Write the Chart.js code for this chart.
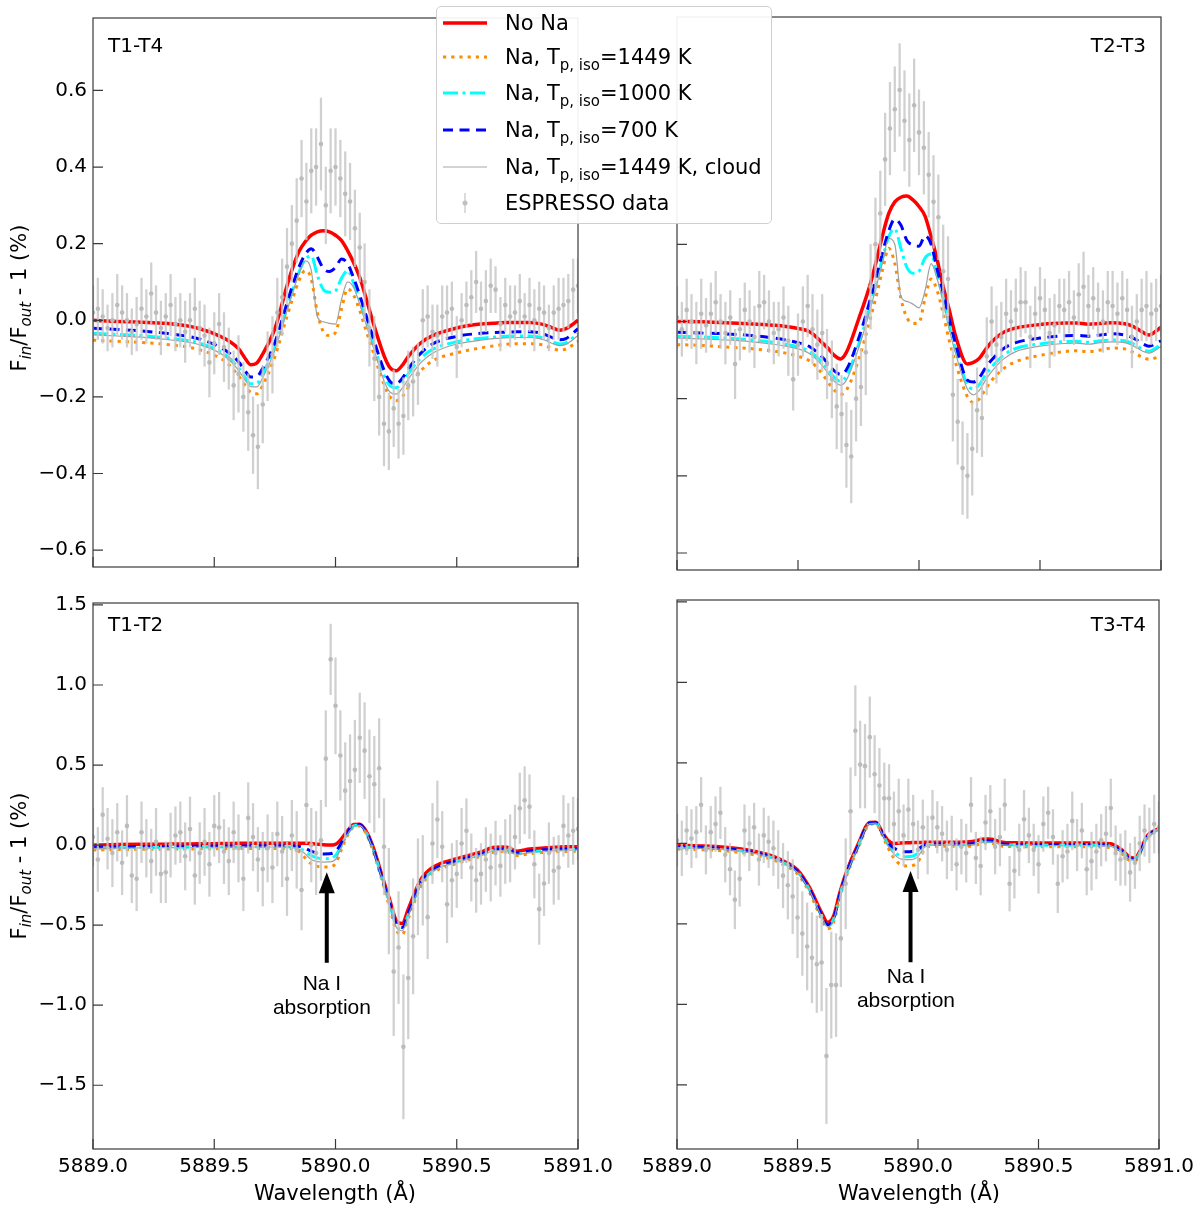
<!DOCTYPE html>
<html>
<head>
<meta charset="utf-8">
<title>Na I transmission models vs ESPRESSO data</title>
<script src="https://cdn.jsdelivr.net/npm/chart.js@4.4.1/dist/chart.umd.min.js"></script>
<style>
  html, body { margin:0; padding:0; background:#fff; }
  body { width:1200px; height:1213px; position:relative; overflow:hidden; font-family:"DejaVu Sans", sans-serif; color:#000; }
  canvas { position:absolute; }
  .plabel { position:absolute; font-size:20px; line-height:24px; white-space:nowrap; }
  .ytitle { position:absolute; width:300px; height:30px; line-height:30px; text-align:center; font-size:21px; transform:rotate(-90deg); white-space:nowrap; }
  .ytitle .s { font-size:15px; font-style:italic; position:relative; top:5px; }
  .xtitle { position:absolute; width:300px; height:28px; line-height:28px; text-align:center; font-size:21px; white-space:nowrap; }
  #legend { position:absolute; left:436px; top:6px; width:336px; height:218px; box-sizing:border-box; border:1px solid #cfcfcf; border-radius:5px; background:rgba(255,255,255,0.92); z-index:10; }
  .lrow { position:absolute; left:0; width:100%; height:24px; }
  .lrow svg { position:absolute; left:6px; top:0; width:46px; height:24px; }
  .lrow .lt { position:absolute; left:68px; top:0; line-height:24px; font-size:21px; white-space:nowrap; }
  .lrow .sub { font-size:15px; position:relative; top:6px; }
</style>
</head>
<body>
<canvas id="cTL" width="640" height="585" style="left:0;top:0"></canvas>
<canvas id="cTR" width="600" height="585" style="left:600px;top:0"></canvas>
<canvas id="cBL" width="640" height="628" style="left:0;top:585px"></canvas>
<canvas id="cBR" width="600" height="628" style="left:600px;top:585px"></canvas>

<div class="plabel" style="left:108px;top:33px">T1-T4</div>
<div class="plabel" style="right:54px;top:33px">T2-T3</div>
<div class="plabel" style="left:108px;top:612px">T1-T2</div>
<div class="plabel" style="right:54px;top:612px">T3-T4</div>

<div class="ytitle" style="left:-131px;top:283px">F<span class="s">in</span>/F<span class="s">out</span> - 1 (%)</div>
<div class="ytitle" style="left:-131px;top:851px">F<span class="s">in</span>/F<span class="s">out</span> - 1 (%)</div>
<div class="xtitle" style="left:185px;top:1179px">Wavelength (Å)</div>
<div class="xtitle" style="left:769px;top:1179px">Wavelength (Å)</div>

<div id="legend">
  <div class="lrow" style="top:4px"><svg><line x1="0" y1="12" x2="44" y2="12" stroke="#ff0000" stroke-width="3.5"/></svg><span class="lt">No Na</span></div>
  <div class="lrow" style="top:38px"><svg><line x1="0" y1="12" x2="44" y2="12" stroke="#ff8c00" stroke-width="3" stroke-dasharray="3.2 5"/></svg><span class="lt">Na, T<span class="sub">p, iso</span>=1449 K</span></div>
  <div class="lrow" style="top:74px"><svg><line x1="0" y1="12" x2="44" y2="12" stroke="#00ffff" stroke-width="3" stroke-dasharray="15 4.5 3 4.5"/></svg><span class="lt">Na, T<span class="sub">p, iso</span>=1000 K</span></div>
  <div class="lrow" style="top:111px"><svg><line x1="0" y1="12" x2="44" y2="12" stroke="#0000ff" stroke-width="3" stroke-dasharray="10 6.5"/></svg><span class="lt">Na, T<span class="sub">p, iso</span>=700 K</span></div>
  <div class="lrow" style="top:148px"><svg><line x1="0" y1="12" x2="44" y2="12" stroke="#a8a8a8" stroke-width="1.2"/></svg><span class="lt">Na, T<span class="sub">p, iso</span>=1449 K, cloud</span></div>
  <div class="lrow" style="top:184px"><svg><line x1="22" y1="2" x2="22" y2="22" stroke="#d0d0d0" stroke-width="1.5"/><circle cx="22" cy="12" r="2.5" fill="#c0c0c0"/></svg><span class="lt">ESPRESSO data</span></div>
</div>

<script>
// ---------------- axis ticks ----------------
const xTickValues = [5889.0, 5889.5, 5890.0, 5890.5, 5891.0];
const xTickLabels = ['5889.0', '5889.5', '5890.0', '5890.5', '5891.0'];
const topYTicks = [-0.6, -0.4, -0.2, 0.0, 0.2, 0.4, 0.6];
const topYLabels = ['\u22120.6', '\u22120.4', '\u22120.2', '0.0', '0.2', '0.4', '0.6'];
const bottomYTicks = [-1.5, -1.0, -0.5, 0.0, 0.5, 1.0, 1.5];
const bottomYLabels = ['\u22121.5', '\u22121.0', '\u22120.5', '0.0', '0.5', '1.0', '1.5'];

// ---------------- model wavelength grid (Å) ----------------
const modelWavelengths = [
  5889.0, 5889.1, 5889.2, 5889.3, 5889.4, 5889.45, 5889.5, 5889.55, 5889.6, 5889.625,
  5889.65, 5889.675, 5889.7, 5889.75, 5889.8, 5889.825, 5889.85, 5889.875, 5889.9, 5889.925,
  5889.95, 5889.975, 5890.0, 5890.025, 5890.05, 5890.075, 5890.1, 5890.125, 5890.15, 5890.2,
  5890.225, 5890.25, 5890.275, 5890.3, 5890.35, 5890.4, 5890.5, 5890.6, 5890.65, 5890.7,
  5890.75, 5890.8, 5890.85, 5890.875, 5890.9, 5890.925, 5890.95, 5891.0
];

// ---------------- T1-T4 models ----------------
const tlNoNa = [0.0, -0.003, -0.005, -0.008, -0.016, -0.024, -0.035, -0.05, -0.074, -0.097,
  -0.116, -0.112, -0.088, -0.022, 0.09, 0.14, 0.18, 0.205, 0.222, 0.231,
  0.234, 0.231, 0.222, 0.208, 0.182, 0.15, 0.112, 0.06, 0.005, -0.092,
  -0.124, -0.132, -0.118, -0.095, -0.06, -0.04, -0.02, -0.01, -0.008, -0.006,
  -0.006, -0.006, -0.01, -0.015, -0.021, -0.026, -0.022, 0.0];
const tl1449 = [-0.052, -0.055, -0.058, -0.063, -0.071, -0.079, -0.091, -0.11, -0.145, -0.168,
  -0.188, -0.192, -0.17, -0.095, 0.01, 0.06, 0.105, 0.13, 0.108, 0.02,
  -0.03, -0.04, -0.032, 0.03, 0.082, 0.065, 0.025, -0.025, -0.072, -0.168,
  -0.2, -0.21, -0.2, -0.176, -0.133, -0.106, -0.085, -0.072, -0.067, -0.063,
  -0.061, -0.061, -0.064, -0.069, -0.075, -0.078, -0.075, -0.055];
const tl1000 = [-0.034, -0.037, -0.04, -0.046, -0.054, -0.062, -0.074, -0.092, -0.124, -0.147,
  -0.166, -0.165, -0.14, -0.07, 0.032, 0.082, 0.127, 0.158, 0.168, 0.118,
  0.08, 0.073, 0.077, 0.11, 0.13, 0.097, 0.052, 0.002, -0.048, -0.143,
  -0.171, -0.176, -0.163, -0.14, -0.1, -0.076, -0.056, -0.047, -0.044, -0.042,
  -0.041, -0.041, -0.045, -0.051, -0.058, -0.062, -0.059, -0.035];
const tl700 = [-0.021, -0.024, -0.028, -0.034, -0.043, -0.051, -0.063, -0.08, -0.108, -0.13,
  -0.148, -0.147, -0.125, -0.058, 0.045, 0.095, 0.14, 0.172, 0.187, 0.165,
  0.135, 0.127, 0.138, 0.16, 0.148, 0.11, 0.065, 0.015, -0.035, -0.13,
  -0.16, -0.166, -0.152, -0.127, -0.087, -0.062, -0.042, -0.034, -0.032, -0.031,
  -0.03, -0.03, -0.034, -0.04, -0.047, -0.051, -0.048, -0.022];
const tl1449Cloud = [-0.038, -0.041, -0.044, -0.05, -0.058, -0.066, -0.078, -0.097, -0.13, -0.154,
  -0.173, -0.174, -0.15, -0.078, 0.025, 0.076, 0.122, 0.155, 0.13, 0.01,
  -0.004, -0.008, -0.01, 0.055, 0.1, 0.085, 0.042, -0.008, -0.058, -0.158,
  -0.188, -0.193, -0.178, -0.154, -0.112, -0.086, -0.062, -0.052, -0.048, -0.046,
  -0.045, -0.045, -0.049, -0.055, -0.062, -0.066, -0.063, -0.04];

// ---------------- T2-T3 models ----------------
const trNoNa = [0.0, -0.001, -0.003, -0.006, -0.01, -0.013, -0.018, -0.027, -0.055, -0.07,
  -0.088, -0.097, -0.08, 0.005, 0.1, 0.16, 0.225, 0.28, 0.31, 0.322,
  0.325, 0.315, 0.298, 0.273, 0.22, 0.16, 0.09, 0.03, -0.035, -0.11,
  -0.106, -0.095, -0.073, -0.053, -0.028, -0.017, -0.008, -0.004, -0.004, -0.007,
  -0.005, -0.003, -0.006, -0.01, -0.018, -0.028, -0.035, -0.015];
const tr1449 = [-0.06, -0.062, -0.066, -0.07, -0.077, -0.082, -0.09, -0.103, -0.135, -0.158,
  -0.178, -0.189, -0.178, -0.1, 0.01, 0.07, 0.135, 0.19, 0.15, 0.06,
  0.01, -0.005, -0.003, 0.06, 0.11, 0.08, 0.02, -0.05, -0.105, -0.195,
  -0.21, -0.2, -0.175, -0.153, -0.122, -0.104, -0.088, -0.078, -0.076, -0.078,
  -0.074, -0.069, -0.071, -0.077, -0.085, -0.093, -0.098, -0.09];
const tr1000 = [-0.038, -0.04, -0.043, -0.047, -0.054, -0.059, -0.066, -0.078, -0.106, -0.125,
  -0.145, -0.155, -0.142, -0.06, 0.045, 0.105, 0.165, 0.22, 0.24, 0.19,
  0.14, 0.125, 0.13, 0.165, 0.175, 0.12, 0.06, -0.01, -0.07, -0.163,
  -0.175, -0.163, -0.138, -0.118, -0.087, -0.07, -0.058, -0.052, -0.051, -0.054,
  -0.05, -0.048, -0.05, -0.055, -0.063, -0.072, -0.077, -0.06];
const tr700 = [-0.028, -0.03, -0.032, -0.036, -0.043, -0.048, -0.055, -0.066, -0.092, -0.11,
  -0.128, -0.137, -0.125, -0.045, 0.06, 0.12, 0.18, 0.235, 0.265, 0.25,
  0.21, 0.198, 0.195, 0.222, 0.2, 0.135, 0.075, 0.005, -0.055, -0.152,
  -0.157, -0.145, -0.12, -0.1, -0.07, -0.055, -0.043, -0.037, -0.036, -0.038,
  -0.035, -0.032, -0.035, -0.04, -0.048, -0.058, -0.064, -0.05];
const tr1449Cloud = [-0.043, -0.045, -0.048, -0.052, -0.059, -0.064, -0.071, -0.084, -0.114, -0.135,
  -0.155, -0.165, -0.152, -0.07, 0.035, 0.095, 0.155, 0.215, 0.2, 0.065,
  0.052, 0.045, 0.035, 0.08, 0.15, 0.11, 0.05, -0.02, -0.08, -0.175,
  -0.19, -0.178, -0.152, -0.13, -0.097, -0.078, -0.064, -0.057, -0.056, -0.059,
  -0.055, -0.053, -0.055, -0.06, -0.068, -0.077, -0.082, -0.065];

// ---------------- T1-T2 models ----------------
const blNoNa = [0.0, 0.003, 0.005, 0.006, 0.007, 0.008, 0.009, 0.01, 0.011, 0.011,
  0.012, 0.012, 0.012, 0.012, 0.012, 0.012, 0.012, 0.012, 0.01, 0.006,
  0.002, 0.0, 0.005, 0.04, 0.09, 0.128, 0.13, 0.09, 0.01, -0.23,
  -0.35, -0.47, -0.49, -0.4, -0.22, -0.14, -0.085, -0.043, -0.015, -0.012,
  -0.038, -0.025, -0.019, -0.016, -0.014, -0.012, -0.011, -0.01];
const bl1449 = [-0.031, -0.028, -0.026, -0.025, -0.024, -0.023, -0.023, -0.022, -0.022, -0.022,
  -0.021, -0.021, -0.021, -0.021, -0.021, -0.024, -0.04, -0.08, -0.118, -0.133,
  -0.137, -0.135, -0.115, -0.025, 0.06, 0.113, 0.12, 0.075, -0.015, -0.265,
  -0.4, -0.53, -0.56, -0.46, -0.265, -0.175, -0.115, -0.07, -0.045, -0.04,
  -0.065, -0.054, -0.047, -0.045, -0.043, -0.041, -0.04, -0.038];
const bl1000 = [-0.02, -0.017, -0.015, -0.014, -0.013, -0.012, -0.012, -0.011, -0.011, -0.011,
  -0.01, -0.01, -0.01, -0.01, -0.01, -0.012, -0.018, -0.04, -0.065, -0.08,
  -0.085, -0.084, -0.065, 0.0, 0.072, 0.12, 0.125, 0.082, -0.005, -0.25,
  -0.38, -0.5, -0.525, -0.435, -0.25, -0.162, -0.104, -0.06, -0.034, -0.03,
  -0.055, -0.043, -0.036, -0.034, -0.032, -0.03, -0.029, -0.027];
const bl700 = [-0.014, -0.011, -0.009, -0.008, -0.007, -0.006, -0.006, -0.005, -0.005, -0.005,
  -0.004, -0.004, -0.004, -0.004, -0.004, -0.005, -0.008, -0.02, -0.038, -0.05,
  -0.055, -0.054, -0.04, 0.015, 0.08, 0.125, 0.128, 0.085, 0.0, -0.245,
  -0.37, -0.49, -0.515, -0.425, -0.24, -0.155, -0.098, -0.055, -0.028, -0.024,
  -0.05, -0.037, -0.03, -0.028, -0.026, -0.025, -0.024, -0.022];
const bl1449Cloud = [-0.022, -0.019, -0.017, -0.016, -0.015, -0.014, -0.014, -0.013, -0.013, -0.013,
  -0.012, -0.012, -0.012, -0.012, -0.012, -0.014, -0.025, -0.055, -0.09, -0.103,
  -0.106, -0.105, -0.09, -0.01, 0.068, 0.118, 0.123, 0.08, -0.008, -0.255,
  -0.385, -0.51, -0.535, -0.44, -0.255, -0.166, -0.107, -0.063, -0.037, -0.033,
  -0.058, -0.046, -0.039, -0.037, -0.035, -0.033, -0.032, -0.03];

// ---------------- T3-T4 models ----------------
const brNoNa = [-0.012, -0.016, -0.024, -0.042, -0.08, -0.115, -0.165, -0.275, -0.43, -0.49,
  -0.45, -0.31, -0.19, -0.01, 0.13, 0.132, 0.075, 0.02, 0.0, 0.002,
  0.004, 0.005, 0.006, 0.007, 0.008, 0.008, 0.008, 0.008, 0.008, 0.009,
  0.012, 0.02, 0.028, 0.027, 0.008, 0.004, 0.003, 0.003, 0.003, 0.003,
  0.002, -0.002, -0.045, -0.082, -0.09, -0.035, 0.045, 0.093];
const br1449 = [-0.035, -0.039, -0.047, -0.065, -0.103, -0.138, -0.19, -0.305, -0.47, -0.53,
  -0.49, -0.34, -0.215, -0.035, 0.118, 0.122, 0.058, -0.025, -0.09, -0.13,
  -0.14, -0.138, -0.115, -0.04, -0.018, -0.017, -0.017, -0.017, -0.018, -0.018,
  -0.016, -0.007, 0.002, 0.002, -0.017, -0.02, -0.021, -0.021, -0.021, -0.021,
  -0.022, -0.026, -0.069, -0.104, -0.11, -0.055, 0.028, 0.08];
const br1000 = [-0.024, -0.028, -0.036, -0.054, -0.092, -0.127, -0.177, -0.29, -0.45, -0.512,
  -0.47, -0.326, -0.204, -0.024, 0.125, 0.128, 0.067, -0.005, -0.05, -0.075,
  -0.082, -0.08, -0.06, -0.018, -0.007, -0.007, -0.007, -0.007, -0.008, -0.008,
  -0.006, 0.003, 0.012, 0.012, -0.007, -0.01, -0.011, -0.011, -0.011, -0.011,
  -0.012, -0.016, -0.057, -0.092, -0.1, -0.045, 0.037, 0.088];
const br700 = [-0.02, -0.024, -0.032, -0.05, -0.088, -0.123, -0.173, -0.285, -0.445, -0.505,
  -0.465, -0.322, -0.2, -0.02, 0.127, 0.13, 0.07, 0.005, -0.028, -0.046,
  -0.052, -0.05, -0.036, -0.01, -0.003, -0.003, -0.003, -0.003, -0.004, -0.004,
  -0.002, 0.007, 0.016, 0.016, -0.003, -0.006, -0.007, -0.007, -0.007, -0.007,
  -0.008, -0.012, -0.053, -0.089, -0.097, -0.042, 0.04, 0.09];
const br1449Cloud = [-0.026, -0.03, -0.038, -0.056, -0.094, -0.129, -0.18, -0.293, -0.455, -0.518,
  -0.475, -0.33, -0.207, -0.027, 0.123, 0.126, 0.064, -0.012, -0.065, -0.095,
  -0.1, -0.1, -0.08, -0.025, -0.01, -0.009, -0.009, -0.009, -0.01, -0.01,
  -0.008, 0.001, 0.01, 0.01, -0.009, -0.012, -0.013, -0.013, -0.013, -0.013,
  -0.014, -0.018, -0.059, -0.094, -0.102, -0.047, 0.035, 0.086];

// ---------------- ESPRESSO data ----------------
const dataWavelengths = [
  5889.00, 5889.02, 5889.04, 5889.06, 5889.08, 5889.10, 5889.12, 5889.14, 5889.16, 5889.18,
  5889.20, 5889.22, 5889.24, 5889.26, 5889.28, 5889.30, 5889.32, 5889.34, 5889.36, 5889.38,
  5889.40, 5889.42, 5889.44, 5889.46, 5889.48, 5889.50, 5889.52, 5889.54, 5889.56, 5889.58,
  5889.60, 5889.62, 5889.64, 5889.66, 5889.68, 5889.70, 5889.72, 5889.74, 5889.76, 5889.78,
  5889.80, 5889.82, 5889.84, 5889.86, 5889.88, 5889.90, 5889.92, 5889.94, 5889.96, 5889.98,
  5890.00, 5890.02, 5890.04, 5890.06, 5890.08, 5890.10, 5890.12, 5890.14, 5890.16, 5890.18,
  5890.20, 5890.22, 5890.24, 5890.26, 5890.28, 5890.30, 5890.32, 5890.34, 5890.36, 5890.38,
  5890.40, 5890.42, 5890.44, 5890.46, 5890.48, 5890.50, 5890.52, 5890.54, 5890.56, 5890.58,
  5890.60, 5890.62, 5890.64, 5890.66, 5890.68, 5890.70, 5890.72, 5890.74, 5890.76, 5890.78,
  5890.80, 5890.82, 5890.84, 5890.86, 5890.88, 5890.90, 5890.92, 5890.94, 5890.96, 5890.98,
  5891.00
];
const tlData = [
  0.02, 0.03, 0.01, -0.02, 0.00, 0.04, 0.02, 0.00, -0.03, -0.01,
  0.03, 0.01, 0.07, 0.02, -0.02, 0.01, 0.04, -0.01, 0.00, -0.03,
  0.00, 0.03, -0.02, -0.04, -0.11, -0.06, -0.01, -0.07, -0.10, -0.17,
  -0.14, -0.20, -0.24, -0.30, -0.33, -0.22, -0.12, -0.09, 0.02, 0.06,
  0.14, 0.20, 0.26, 0.37, 0.31, 0.39, 0.40, 0.46, 0.30, 0.39,
  0.40, 0.37, 0.33, 0.31, 0.24, 0.19, 0.10, -0.02, -0.10, -0.20,
  -0.27, -0.29, -0.23, -0.27, -0.25, -0.17, -0.16, -0.14, 0.00, 0.01,
  -0.03, -0.04, 0.01, 0.02, 0.03, -0.07, 0.00, 0.04, 0.06, 0.10,
  0.03, 0.05, 0.09, 0.08, -0.01, 0.04, 0.01, 0.02, 0.05, 0.01,
  0.04, 0.00, 0.03, 0.02, -0.02, 0.02, 0.03, 0.04, 0.05, 0.08,
  0.09
];
const tlErr = [
  0.07, 0.08, 0.07, 0.06, 0.07, 0.08, 0.07, 0.07, 0.06, 0.07,
  0.08, 0.07, 0.08, 0.07, 0.07, 0.06, 0.08, 0.07, 0.07, 0.08,
  0.07, 0.08, 0.07, 0.08, 0.09, 0.08, 0.08, 0.09, 0.08, 0.09,
  0.10, 0.09, 0.10, 0.10, 0.11, 0.10, 0.09, 0.10, 0.09, 0.10,
  0.10, 0.10, 0.11, 0.10, 0.10, 0.11, 0.10, 0.12, 0.10, 0.11,
  0.10, 0.10, 0.11, 0.10, 0.10, 0.09, 0.10, 0.10, 0.11, 0.10,
  0.11, 0.10, 0.10, 0.09, 0.10, 0.09, 0.09, 0.08, 0.08, 0.08,
  0.07, 0.08, 0.08, 0.07, 0.07, 0.08, 0.07, 0.06, 0.07, 0.08,
  0.07, 0.08, 0.07, 0.06, 0.07, 0.07, 0.08, 0.07, 0.07, 0.06,
  0.07, 0.08, 0.07, 0.07, 0.06, 0.07, 0.08, 0.07, 0.07, 0.08,
  0.07
];
const trData = [
  0.01, -0.02, 0.03, 0.00, -0.03, 0.02, -0.01, 0.02, 0.05, 0.00,
  -0.03, 0.01, -0.11, -0.02, 0.03, 0.00, -0.04, 0.04, 0.05, 0.00,
  -0.03, -0.02, 0.01, -0.05, -0.15, -0.06, 0.00, 0.04, -0.02, -0.06,
  -0.03, -0.11, -0.15, -0.22, -0.24, -0.32, -0.35, -0.20, -0.17, -0.08,
  0.09, 0.20, 0.28, 0.42, 0.50, 0.55, 0.60, 0.52, 0.47, 0.56,
  0.49, 0.45, 0.38, 0.31, 0.27, 0.13, 0.11, -0.19, -0.26, -0.38,
  -0.40, -0.33, -0.23, -0.25, -0.09, 0.00, -0.06, -0.04, 0.02, 0.00,
  0.03, 0.05, 0.05, -0.04, 0.02, 0.06, 0.03, -0.03, -0.01, 0.04,
  0.03, 0.05, 0.01, 0.07, 0.09, 0.04, 0.06, 0.03, 0.00, 0.05,
  0.04, 0.02, 0.06, 0.03, -0.04, 0.00, 0.03, 0.04, 0.02, 0.03,
  0.04
];
const trErr = [
  0.08, 0.07, 0.08, 0.07, 0.08, 0.09, 0.07, 0.08, 0.08, 0.07,
  0.08, 0.07, 0.09, 0.08, 0.07, 0.08, 0.08, 0.09, 0.07, 0.08,
  0.08, 0.07, 0.08, 0.09, 0.08, 0.08, 0.09, 0.08, 0.09, 0.09,
  0.10, 0.09, 0.10, 0.11, 0.10, 0.11, 0.12, 0.11, 0.10, 0.11,
  0.11, 0.12, 0.11, 0.12, 0.12, 0.11, 0.12, 0.13, 0.12, 0.12,
  0.11, 0.12, 0.11, 0.12, 0.11, 0.12, 0.11, 0.12, 0.11, 0.12,
  0.11, 0.12, 0.11, 0.10, 0.10, 0.09, 0.10, 0.09, 0.09, 0.08,
  0.08, 0.09, 0.08, 0.08, 0.07, 0.08, 0.08, 0.09, 0.08, 0.07,
  0.08, 0.08, 0.07, 0.08, 0.09, 0.08, 0.08, 0.07, 0.08, 0.08,
  0.09, 0.08, 0.07, 0.08, 0.08, 0.07, 0.08, 0.09, 0.08, 0.08,
  0.08
];
const blData = [
  0.05, -0.09, 0.19, 0.04, -0.05, 0.08, -0.11, 0.12, -0.19, -0.21,
  0.08, -0.02, -0.10, 0.02, -0.18, -0.17, 0.00, 0.06, 0.08, -0.07,
  0.10, -0.19, -0.05, 0.02, -0.12, 0.12, 0.11, -0.04, -0.10, 0.08,
  -0.02, -0.21, 0.17, 0.05, -0.09, -0.15, -0.02, -0.14, 0.07, -0.04,
  -0.21, 0.06, -0.03, -0.28, 0.25, 0.00, -0.05, 0.03, 0.54, 1.16,
  0.87, 0.56, 0.34, 0.40, 0.47, 0.67, 0.59, 0.43, 0.38, 0.48,
  -0.01, -0.35, -0.79, -0.64, -1.26, -0.83, -0.57, -0.26, -0.22, -0.45,
  0.01, 0.16, -0.01, -0.37, -0.22, -0.18, 0.01, 0.09, -0.14, -0.22,
  -0.18, -0.09, -0.14, -0.05, -0.13, -0.04, -0.02, 0.05, 0.23, 0.28,
  0.24, -0.12, -0.40, -0.24, -0.05, -0.16, -0.14, 0.12, 0.06, 0.09,
  0.10
];
const blErr = [
  0.18, 0.20, 0.17, 0.19, 0.21, 0.18, 0.20, 0.19, 0.17, 0.20,
  0.19, 0.18, 0.20, 0.21, 0.18, 0.19, 0.20, 0.18, 0.19, 0.21,
  0.20, 0.18, 0.19, 0.21, 0.20, 0.19, 0.22, 0.20, 0.21, 0.19,
  0.21, 0.20, 0.22, 0.21, 0.20, 0.23, 0.21, 0.22, 0.20, 0.22,
  0.23, 0.22, 0.24, 0.25, 0.24, 0.23, 0.26, 0.25, 0.30, 0.22,
  0.30, 0.28, 0.30, 0.29, 0.31, 0.28, 0.30, 0.29, 0.30, 0.31,
  0.30, 0.33, 0.40, 0.35, 0.45, 0.38, 0.36, 0.30, 0.28, 0.26,
  0.25, 0.24, 0.22, 0.24, 0.23, 0.21, 0.22, 0.20, 0.21, 0.20,
  0.19, 0.20, 0.21, 0.20, 0.19, 0.20, 0.21, 0.20, 0.22, 0.21,
  0.20, 0.21, 0.22, 0.20, 0.19, 0.21, 0.20, 0.19, 0.20, 0.21,
  0.19
];
const brData = [
  0.02, -0.03, 0.08, 0.03, 0.07, 0.24, -0.04, 0.07, 0.12, 0.19,
  -0.07, -0.16, -0.35, -0.22, 0.08, 0.00, 0.10, -0.10, 0.05, 0.01,
  -0.03, -0.10, -0.20, -0.26, -0.33, -0.46, -0.56, -0.64, -0.71, -0.75,
  -0.74, -1.32, -0.88, -0.88, -0.59, -0.25, 0.20, 0.70, 0.49, 0.48,
  0.66, 0.43, 0.36, 0.28, 0.28, 0.12, 0.20, 0.05, 0.21, 0.12,
  -0.04, 0.10, -0.01, 0.16, 0.10, 0.06, -0.04, 0.00, -0.13, -0.02,
  -0.06, 0.24, -0.09, -0.14, 0.13, 0.20, -0.02, 0.04, 0.24, -0.25,
  -0.17, -0.04, 0.15, 0.05, -0.04, -0.13, 0.12, 0.19, 0.04, -0.25,
  -0.08, -0.05, 0.14, -0.01, 0.08, -0.16, -0.11, -0.05, 0.02, 0.06,
  0.22, -0.06, -0.10, -0.09, -0.18, -0.12, 0.00, 0.08, 0.05, 0.12,
  0.10
];
const brErr = [
  0.16, 0.17, 0.15, 0.18, 0.16, 0.17, 0.15, 0.16, 0.17, 0.16,
  0.17, 0.16, 0.18, 0.17, 0.16, 0.17, 0.15, 0.16, 0.17, 0.16,
  0.17, 0.18, 0.20, 0.21, 0.23, 0.25, 0.26, 0.27, 0.28, 0.30,
  0.30, 0.42, 0.33, 0.32, 0.30, 0.28, 0.27, 0.28, 0.27, 0.26,
  0.25, 0.24, 0.23, 0.22, 0.21, 0.20, 0.20, 0.19, 0.19, 0.18,
  0.18, 0.17, 0.18, 0.17, 0.16, 0.17, 0.18, 0.17, 0.16, 0.17,
  0.18, 0.17, 0.16, 0.18, 0.17, 0.16, 0.17, 0.18, 0.16, 0.17,
  0.17, 0.16, 0.18, 0.17, 0.16, 0.18, 0.17, 0.16, 0.17, 0.18,
  0.16, 0.17, 0.18, 0.16, 0.17, 0.16, 0.18, 0.17, 0.16, 0.17,
  0.18, 0.17, 0.16, 0.17, 0.18, 0.16, 0.17, 0.16, 0.17, 0.18,
  0.16
];

// ---------------- chart construction ----------------
Chart.defaults.font.family = '"DejaVu Sans", sans-serif';
Chart.defaults.color = '#000';

function xy(xs, ys) { return xs.map((x, i) => ({ x: x, y: ys[i] })); }
function bars(xs, ys, es) { return xs.map((x, i) => ({ x: x, y: [ys[i] - es[i], ys[i] + es[i]] })); }

function decorPlugin(yTicks, arrow) {
  return {
    id: 'decor',
    afterDraw(chart) {
      const ctx = chart.ctx, a = chart.chartArea;
      const xs = chart.scales.x, ys = chart.scales.y;
      ctx.save();
      ctx.strokeStyle = '#3a3a3a';
      ctx.lineWidth = 1.2;
      ctx.strokeRect(a.left, a.top, a.right - a.left, a.bottom - a.top);
      ctx.beginPath();
      xTickValues.forEach(v => { const p = xs.getPixelForValue(v); ctx.moveTo(p, a.bottom); ctx.lineTo(p, a.bottom - 10); });
      yTicks.forEach(v => { const p = ys.getPixelForValue(v); ctx.moveTo(a.left, p); ctx.lineTo(a.left + 10, p); });
      ctx.stroke();
      if (arrow) {
        const ax = xs.getPixelForValue(arrow.x);
        const tip = ys.getPixelForValue(arrow.tip);
        const tail = ys.getPixelForValue(arrow.tail);
        ctx.strokeStyle = '#000'; ctx.fillStyle = '#000'; ctx.lineWidth = 4;
        ctx.beginPath(); ctx.moveTo(ax, tail); ctx.lineTo(ax, tip + 18); ctx.stroke();
        ctx.beginPath(); ctx.moveTo(ax, tip); ctx.lineTo(ax - 8, tip + 21); ctx.lineTo(ax + 8, tip + 21); ctx.closePath(); ctx.fill();
        ctx.font = '21px "Liberation Sans", Arial, sans-serif';
        ctx.textAlign = 'center'; ctx.textBaseline = 'middle';
        const tx = xs.getPixelForValue(arrow.textX);
        ctx.fillText('Na I', tx, ys.getPixelForValue(arrow.line1));
        ctx.fillText('absorption', tx, ys.getPixelForValue(arrow.line2));
      }
      ctx.restore();
    }
  };
}

function makePanel(id, p) {
  const lineDs = (data, color, width, dash, order) => ({
    type: 'line', data: xy(modelWavelengths, data), borderColor: color, borderWidth: width,
    borderDash: dash, borderCapStyle: 'butt', pointRadius: 0, fill: false,
    cubicInterpolationMode: 'monotone', order: order, clip: 0
  });
  new Chart(document.getElementById(id), {
    type: 'line',
    data: {
      datasets: [
        { type: 'scatter', data: xy(dataWavelengths, p.data), pointRadius: 2.3, pointBorderWidth: 0,
          pointBackgroundColor: 'rgba(185,185,185,0.95)', showLine: false, order: 0, clip: 0 },
        { type: 'bar', data: bars(dataWavelengths, p.data, p.err), backgroundColor: 'rgba(200,200,200,0.85)',
          borderWidth: 0, barThickness: 1.6, grouped: false, order: 1, clip: 0 },
        lineDs(p.cloud, '#a0a0a0', 1.2, [], 2),
        lineDs(p.k700, '#0000ff', 3, [10, 6.5], 3),
        lineDs(p.k1000, '#00ffff', 3, [15, 4.5, 3, 4.5], 4),
        lineDs(p.k1449, '#ff8c00', 3, [3.2, 5], 5),
        lineDs(p.noNa, '#ff0000', 3.5, [], 6)
      ]
    },
    options: {
      responsive: false, animation: false, events: [],
      layout: { padding: { left: 0, right: p.padRight, top: p.padTop, bottom: 0 } },
      plugins: { legend: { display: false }, tooltip: { enabled: false } },
      scales: {
        x: {
          type: 'linear', min: 5889, max: 5891, offset: false,
          afterBuildTicks: s => { s.ticks = xTickValues.map(v => ({ value: v })); },
          afterFit: s => { s.height = p.xHeight; },
          ticks: { display: p.showX, autoSkip: false, maxRotation: 0, padding: 6,
                   font: { size: 20 }, color: '#000', callback: (v, i) => xTickLabels[i] },
          grid: { display: false, drawTicks: false }, border: { display: false }
        },
        y: {
          type: 'linear', min: p.yMin, max: p.yMax,
          afterBuildTicks: s => { s.ticks = p.yTicks.map(v => ({ value: v })); },
          afterFit: s => { s.width = p.yWidth; },
          ticks: { display: p.showY, autoSkip: false, padding: 6,
                   font: { size: 20 }, color: '#000', callback: (v, i) => p.yLabels[i] },
          grid: { display: false, drawTicks: false }, border: { display: false }
        }
      }
    },
    plugins: [decorPlugin(p.yTicks, p.arrow)]
  });
}

const topRange = { yMin: -0.644, yMax: 0.789, yTicks: topYTicks, yLabels: topYLabels, padTop: 17, xHeight: 15, showX: false };
const botRange = { yMin: -1.898, yMax: 1.512, yTicks: bottomYTicks, yLabels: bottomYLabels, padTop: 15, xHeight: 64, showX: true };

makePanel('cTL', Object.assign({}, topRange, { yWidth: 93, padRight: 62, showY: true,
  noNa: tlNoNa, k1449: tl1449, k1000: tl1000, k700: tl700, cloud: tl1449Cloud, data: tlData, err: tlErr }));
makePanel('cTR', Object.assign({}, topRange, { yWidth: 77, padRight: 39, showY: false,
  noNa: trNoNa, k1449: tr1449, k1000: tr1000, k700: tr700, cloud: tr1449Cloud, data: trData, err: trErr }));
makePanel('cBL', Object.assign({}, botRange, { yWidth: 93, padRight: 62, showY: true,
  noNa: blNoNa, k1449: bl1449, k1000: bl1000, k700: bl700, cloud: bl1449Cloud, data: blData, err: blErr,
  arrow: { x: 5889.964, tip: -0.17, tail: -0.735, textX: 5889.944, line1: -0.866, line2: -1.016 } }));
makePanel('cBR', Object.assign({}, botRange, { yWidth: 77, padRight: 39, showY: false,
  noNa: brNoNa, k1449: br1449, k1000: br1000, k700: br700, cloud: br1449Cloud, data: brData, err: brErr,
  arrow: { x: 5889.969, tip: -0.172, tail: -0.738, textX: 5889.95, line1: -0.83, line2: -0.98 } }));
</script>
</body>
</html>
